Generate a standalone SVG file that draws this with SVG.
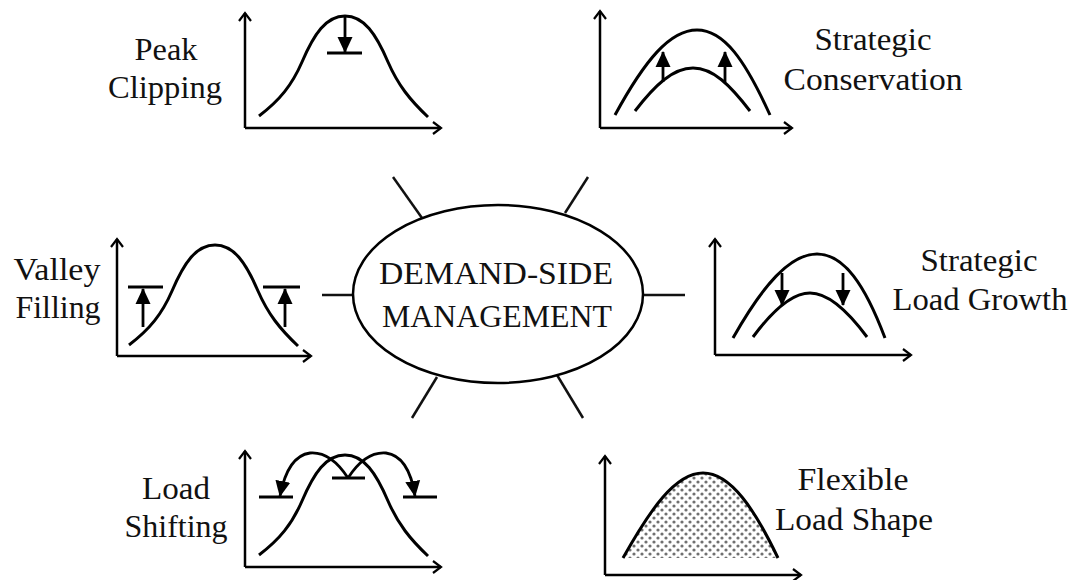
<svg xmlns="http://www.w3.org/2000/svg" width="1078" height="580" viewBox="0 0 1078 580">
<style>
.ax{fill:none;stroke:#000;stroke-width:2.5;marker-end:url(#open)}
.cv{fill:none;stroke:#000;stroke-width:3}
.bar{stroke:#000;stroke-width:3}
.ar{stroke:#000;stroke-width:2.8;marker-end:url(#tri)}
.arc{fill:none;stroke:#000;stroke-width:2.8;marker-end:url(#tri)}
.sp{stroke:#111;stroke-width:2.5}
.lbl{font-family:"Liberation Serif","Times New Roman",serif;font-size:32px;fill:#111;text-anchor:middle}
.ctr{font-family:"Liberation Serif","Times New Roman",serif;font-size:32px;fill:#111;text-anchor:middle}
</style>
<defs>
<marker id="open" viewBox="-10 -8 12 16" markerWidth="12" markerHeight="16" refX="0" refY="0" orient="auto" markerUnits="userSpaceOnUse">
<path d="M-8,-6 L0,0 L-8,6" fill="none" stroke="#000" stroke-width="2.2"/>
</marker>
<marker id="tri" viewBox="0 0 16 16" markerWidth="16" markerHeight="16" refX="15" refY="8" orient="auto" markerUnits="userSpaceOnUse">
<path d="M0,0.5 L16,8 L0,15.5 z" fill="#000"/>
</marker>
<pattern id="dots" width="8" height="8" patternUnits="userSpaceOnUse">
<rect width="8" height="8" fill="#fff"/>
<circle cx="2" cy="2" r="1.6" fill="#707070"/>
<circle cx="6" cy="6" r="1.6" fill="#707070"/>
</pattern>
</defs>
<rect width="1078" height="580" fill="#fff"/>

<g id="connectors">
<line class="sp" x1="322" y1="295" x2="353" y2="295"/>
<line class="sp" x1="643" y1="295" x2="685" y2="295"/>
<line class="sp" x1="393" y1="177" x2="422" y2="218"/>
<line class="sp" x1="588" y1="177" x2="565" y2="213"/>
<line class="sp" x1="437" y1="377" x2="412" y2="418"/>
<line class="sp" x1="557" y1="375" x2="583" y2="418"/>
</g>

<g id="dsm">
<ellipse cx="498" cy="294" rx="145" ry="89" fill="#fff" stroke="#000" stroke-width="2.5"/>
<text class="ctr" x="496" y="284" textLength="234" lengthAdjust="spacingAndGlyphs">DEMAND-SIDE</text>
<text class="ctr" x="497" y="327" textLength="230" lengthAdjust="spacingAndGlyphs">MANAGEMENT</text>
</g>

<g id="peak-clipping">
<path class="ax" d="M245,128 L245,13"/>
<path class="ax" d="M245,128 L441,128"/>
<path class="cv" d="M259,116 C280,100 292,85 302,62 C314,34 326,16 345,16 C364,16 376,34 388,62 C398,85 410,100 428,117"/>
<line class="ar" x1="345" y1="17" x2="345" y2="52"/>
<line class="bar" x1="327" y1="53" x2="362" y2="53"/>
<text class="lbl" x="166" y="60" textLength="63" lengthAdjust="spacingAndGlyphs">Peak</text>
<text class="lbl" x="165" y="98" textLength="114" lengthAdjust="spacingAndGlyphs">Clipping</text>
</g>

<g id="strategic-conservation">
<path class="ax" d="M600,128 L600,11"/>
<path class="ax" d="M600,128 L792,128"/>
<path class="cv" d="M615,115 C645,60 670,30 697,30 C724,30 745,60 770,115"/>
<path class="cv" d="M635,111 C655,85 673,68 693,68 C713,68 730,85 750,111"/>
<line class="ar" x1="663" y1="82" x2="663" y2="52"/>
<line class="ar" x1="725" y1="82" x2="725" y2="52"/>
<text class="lbl" x="873" y="50" textLength="117" lengthAdjust="spacingAndGlyphs">Strategic</text>
<text class="lbl" x="873" y="90" textLength="179" lengthAdjust="spacingAndGlyphs">Conservation</text>
</g>

<g id="valley-filling">
<path class="ax" d="M117,356 L117,239"/>
<path class="ax" d="M117,356 L311,356"/>
<path class="cv" d="M129,345 C150,329 162,314 172,291 C184,263 196,245 215,245 C234,245 246,263 258,291 C268,314 280,329 298,346"/>
<line class="ar" x1="143" y1="327" x2="143" y2="289"/>
<line class="bar" x1="128" y1="287" x2="163" y2="287"/>
<line class="ar" x1="285" y1="327" x2="285" y2="289"/>
<line class="bar" x1="263" y1="287" x2="300" y2="287"/>
<text class="lbl" x="57" y="280" textLength="87" lengthAdjust="spacingAndGlyphs">Valley</text>
<text class="lbl" x="58" y="318" textLength="85" lengthAdjust="spacingAndGlyphs">Filling</text>
</g>

<g id="strategic-load-growth">
<path class="ax" d="M715,355 L715,239"/>
<path class="ax" d="M715,355 L911,355"/>
<path class="cv" d="M733,338 C763,285 790,254 817,254 C844,254 865,285 885,338"/>
<path class="cv" d="M753,337 C773,310 792,293 810,293 C828,293 847,310 867,337"/>
<line class="ar" x1="782" y1="273" x2="782" y2="305"/>
<line class="ar" x1="843" y1="273" x2="843" y2="305"/>
<text class="lbl" x="979" y="271" textLength="117" lengthAdjust="spacingAndGlyphs">Strategic</text>
<text class="lbl" x="980" y="310" textLength="175" lengthAdjust="spacingAndGlyphs">Load Growth</text>
</g>

<g id="load-shifting">
<path class="ax" d="M245,567 L245,451"/>
<path class="ax" d="M245,567 L441,567"/>
<path class="cv" d="M259,555 C280,539 292,524 302,501 C314,473 326,455 345,455 C364,455 376,473 388,501 C398,524 410,539 428,556"/>
<path class="arc" d="M348,478 C335,458 322,452 310,453 C295,455 285,470 280,496"/>
<path class="arc" d="M348,478 C361,458 374,452 386,453 C401,455 411,470 415,496"/>
<line class="bar" x1="332" y1="478" x2="365" y2="478"/>
<line class="bar" x1="259" y1="497" x2="293" y2="497"/>
<line class="bar" x1="403" y1="497" x2="437" y2="497"/>
<text class="lbl" x="176" y="499" textLength="68" lengthAdjust="spacingAndGlyphs">Load</text>
<text class="lbl" x="176" y="537" textLength="103" lengthAdjust="spacingAndGlyphs">Shifting</text>
</g>

<g id="flexible-load-shape">
<path d="M623,558 C650,510 675,473 703,473 C731,473 755,510 778,558 Z" fill="url(#dots)" stroke="none"/>
<path class="cv" d="M623,558 C650,510 675,473 703,473 C731,473 755,510 778,558"/>
<path class="ax" d="M605,575 L605,456"/>
<path class="ax" d="M605,575 L801,575"/>
<text class="lbl" x="853" y="490" textLength="111" lengthAdjust="spacingAndGlyphs">Flexible</text>
<text class="lbl" x="854" y="530" textLength="158" lengthAdjust="spacingAndGlyphs">Load Shape</text>
</g>
</svg>
